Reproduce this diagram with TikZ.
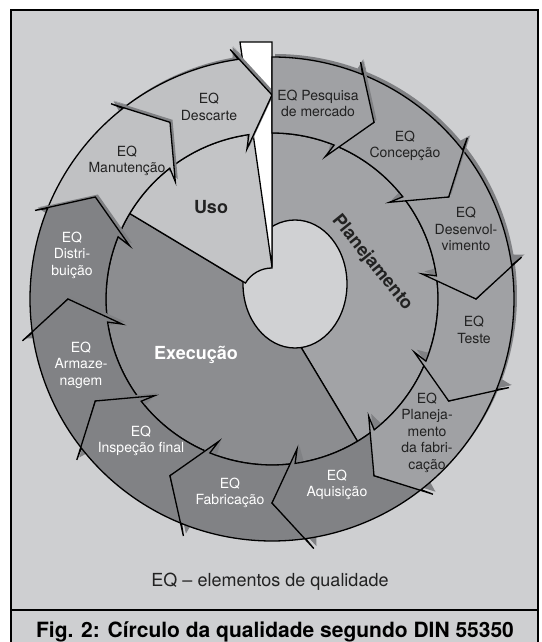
\documentclass[tikz,border=0pt]{standalone}
\usepackage{fontspec}
\setmainfont{TeX Gyre Heros}
\definecolor{bgc}{HTML}{CECFD1}
\definecolor{usoc}{HTML}{C3C4C6}
\definecolor{usoarr}{HTML}{C0C1C3}
\definecolor{plansec}{HTML}{A2A3A6}
\definecolor{planarr}{HTML}{A0A1A4}
\definecolor{execsec}{HTML}{8C8D90}
\definecolor{execarr}{HTML}{818285}
\definecolor{holec}{HTML}{D0D1D3}
\definecolor{shadowc}{HTML}{808184}
\definecolor{txtc}{HTML}{222222}
\def\Ro{242}\def\Ri{166}\def\Rm{204}\def\Rb{253}\def\Rc{152}
\newcommand\SetRA[1]{%
  \pgfmathsetmacro\RAs{#1+38}%
  \pgfmathsetmacro\RAh{#1+8}%
  \pgfmathsetmacro\RAb{#1+9.5}%
  \pgfmathsetmacro\RAp{#1+30}%
}
\newcommand\RingArrow[2]{%
  \SetRA{#1}%
  \path[#2] (\RAs:\Ro) arc[start angle=\RAs, end angle=\RAh, radius=\Ro]
    -- (\RAb:\Rb) -- (#1:\Rm) -- (\RAb:\Rc) -- (\RAh:\Ri)
    arc[start angle=\RAh, end angle=\RAs, radius=\Ri] -- (\RAp:\Rm) -- cycle;
}
\newcommand\HeadShadow[1]{%
  \SetRA{#1}%
  \fill[shadowc, shift={(2.5,2.5)}] (\RAh+2:\Ro) -- (\RAb:\Rb) -- (#1:\Rm) -- (\RAb:\Rc) -- (\RAh+2:\Ri) -- cycle;
}
\newcommand\ShadedArrow[2]{\HeadShadow{#1}\RingArrow{#1}{ringline, fill=#2}}
\newcommand\FirstArrow[1]{%
  \path[#1] (90:\Ro) arc[start angle=90, end angle=68, radius=\Ro]
    -- (69.5:\Rb) -- (60:\Rm) -- (69.5:\Rc) -- (68:\Ri)
    arc[start angle=68, end angle=90, radius=\Ri] -- cycle;
}
\begin{document}
\begin{tikzpicture}[x=1pt,y=1pt,
  ringline/.style={draw=black, line width=1.3pt, line join=miter},
  lab/.style={align=center, inner sep=0pt, font=\fontsize{14}{16.5}\selectfont, text=txtc},
  labw/.style={lab, text=white},
  big/.style={inner sep=0pt, font=\fontsize{18}{20}\selectfont\bfseries}]
\useasboundingbox (0,0) rectangle (541,642);
\fill[white] (0,0) rectangle (541,642);
\filldraw[fill=bgc, draw=black, line width=1.8pt] (11,632) rectangle (538,-10);
\draw[line width=1.8pt] (11,32) -- (538,32);
\begin{scope}[shift={(272,343)}]
  % shadows of the ring
  \foreach \t in {30,0,-30,-60,-90,-120,-150,-180,-210,-240,-270}{\RingArrow{\t}{fill=shadowc, shift={(3,3)}}}
  \FirstArrow{fill=shadowc, shift={(3,3)}}
  % inner sectors
  \filldraw[ringline, fill=plansec] (0,0) -- (-59:\Ri) arc[start angle=-59, end angle=90, radius=\Ri] -- cycle;
  \filldraw[ringline, fill=execsec] (0,0) -- (149:\Ri) arc[start angle=149, end angle=301, radius=\Ri] -- cycle;
  \filldraw[ringline, fill=holec] (23,15) ellipse[x radius=52, y radius=64];
  \filldraw[ringline, fill=usoc] (90:31) -- (90:\Ri) arc[start angle=90, end angle=149, radius=\Ri] -- (149:31) arc[start angle=149, end angle=90, radius=31] -- cycle;
  \filldraw[ringline, fill=white] (-32,257) -- (0,257) -- (0,32) -- cycle;
  % ring arrows (reverse order so heads lie on top)
  \ShadedArrow{-270}{usoarr}
  \ShadedArrow{-240}{usoarr}
  \ShadedArrow{-210}{execarr}
  \ShadedArrow{-180}{execarr}
  \ShadedArrow{-150}{execarr}
  \ShadedArrow{-120}{execarr}
  \ShadedArrow{-90}{execarr}
  \ShadedArrow{-60}{planarr}
  \ShadedArrow{-30}{planarr}
  \ShadedArrow{0}{planarr}
  \ShadedArrow{30}{planarr}
  \fill[shadowc, shift={(2.5,2.5)}] (70:\Ro) -- (69.5:\Rb) -- (60:\Rm) -- (69.5:\Rc) -- (70:\Ri) -- cycle;
  \FirstArrow{ringline, fill=planarr}
\end{scope}
% labels
\node[lab] (pesq) at (318,538.5) {EQ Pesquisa\\de mercado};
\node[lab] (conc) at (405,496) {EQ\\Concepção};
\node[lab] (desv) at (466,413) {EQ\\Desenvol-\\vimento};
\node[lab] (test) at (474,312) {EQ\\Teste};
\node[lab] (pfab) at (427,209.5) {EQ\\Planeja-\\mento\\da fabri-\\cação};
\node[labw] (aqui) at (337,157) {EQ\\Aquisição};
\node[labw] (fabr) at (230,149) {EQ\\Fabricação};
\node[labw] (insp) at (141,201) {EQ\\Inspeção final};
\node[labw] (arma) at (81,277) {EQ\\Armaze-\\nagem};
\node[labw] (dist) at (72,387) {EQ\\Distri-\\buição};
\node[lab] (manu) at (127,481) {EQ\\Manutenção};
\node[lab] (desc) at (209,535) {EQ\\Descarte};
\node[big, text=txtc] (uso) at (211,435) {Uso};
\node[big, text=white] (exec) at (196,287) {Execução};
\node[big, text=txtc, rotate=-51] (plan) at (372,379) {Planejamento};
\node[inner sep=0pt, font=\fontsize{18}{20}\selectfont, text=txtc] (leg) at (270,60) {EQ – elementos de qualidade};
\node[inner sep=0pt, font=\fontsize{21}{24}\selectfont\bfseries] (cap) at (275,10) {Fig. 2: Círculo da qualidade segundo DIN 55350};
\end{tikzpicture}
\end{document}
